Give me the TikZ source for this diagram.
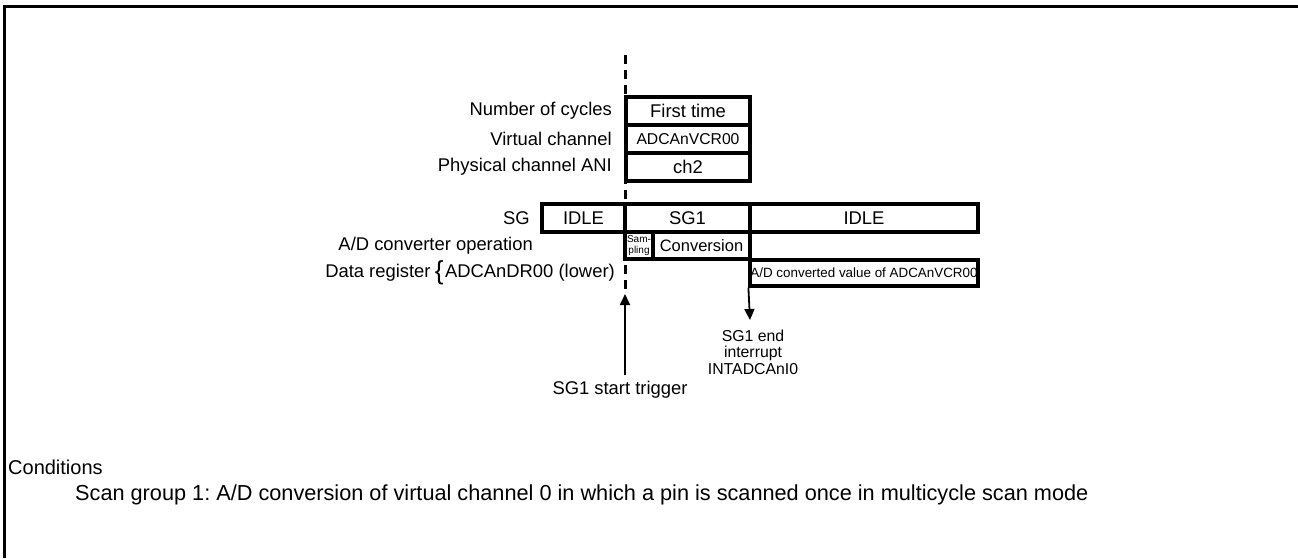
\documentclass[tikz,border=0pt]{standalone}
\usepackage{fontspec}
\setmainfont{Liberation Sans}
\usepackage{tikz}
\usetikzlibrary{arrows.meta}
\frenchspacing

\begin{document}
\begin{tikzpicture}[
    x=1pt, y=-1pt,
    % casillas del diagrama de tiempos
    celda/.style={draw=black, line width=3.2pt, minimum height=28pt, inner sep=0pt, font=\fontsize{18.4}{20}\selectfont},
    etiqueta/.style={anchor=east, inner sep=0pt, font=\fontsize{18.4}{20}\selectfont},
    texto/.style={inner sep=0pt, font=\fontsize{18.4}{20}\selectfont},
    lineaTiempo/.style={line width=3pt, dash pattern=on 9pt off 6pt},
    flechaEvento/.style={-{Triangle[length=11pt,width=10pt]}, line width=1.8pt}
]
    \useasboundingbox (0,0) rectangle (1298,558);

    % --- MARCO ---
    \draw[line width=3pt] (1298,6) -- (4,6) -- (4,558);

    % --- FILAS SUPERIORES ---
    \node[celda, minimum width=124pt] (ciclos)  at (688,111) {First time};
    \node[celda, minimum width=124pt, font=\fontsize{15.7}{17}\selectfont] (virtual) at (688,139) {ADCAnVCR00};
    \node[celda, minimum width=124pt] (fisico)  at (688,167) {ch2};

    \node[etiqueta] (lblCiclos)  at (612,111) {Number of cycles};
    \node[etiqueta] (lblVirtual) at (612,139) {Virtual channel};
    \node[etiqueta] (lblFisico)  at (612,167) {Physical channel ANI};

    % --- GRUPO DE EXPLORACION ---
    \node[celda, minimum width=83pt]  (idleA) at (583.5,218) {IDLE};
    \node[celda, minimum width=125pt] (sgUno) at (687.5,218) {SG1};
    \node[celda, minimum width=228pt] (idleB) at (864,218)   {IDLE};
    \node[etiqueta] (lblSG) at (530,218) {SG};

    % --- OPERACION DEL CONVERTIDOR ---
    \node[celda, minimum width=28pt, minimum height=27pt, align=center,
          font=\fontsize{10}{10.5}\selectfont] (muestreo) at (639,245.5) {Sam-\\pling};
    \node[celda, minimum width=97pt, minimum height=27pt,
          font=\fontsize{16.5}{18}\selectfont] (conversion) at (701.5,245.5) {Conversion};
    \node[etiqueta] (lblOperacion) at (533,245.5) {A/D converter operation};

    % --- REGISTRO DE DATOS ---
    \node[celda, minimum width=228pt, minimum height=26pt,
          font=\fontsize{13.4}{15}\selectfont] (valor) at (864,273) {A/D converted value of ADCAnVCR00};
    \node[etiqueta] (lblRegistro) at (615,273) {ADCAnDR00 (lower)};
    \node[texto, anchor=east, font=\fontsize{26}{26}\selectfont] (llave) at ([xshift=-1pt]lblRegistro.west) {\{};
    \node[etiqueta] (lblDatos) at ([xshift=-4pt]llave.west) {Data register};

    % --- LINEA DE INICIO ---
    \coordinate (tope) at (625,55);
    \coordinate (base) at (625,294);
    \draw[lineaTiempo] (tope) -- (base);

    % --- EVENTOS ---
    \node[texto] (disparo) at (620,390) {SG1 start trigger};
    \draw[flechaEvento] (625,375) -- (base);

    \node[texto, align=center, font=\fontsize{15.8}{16.5}\selectfont] (fin) at (753,352) {SG1 end\\interrupt\\INTADCAnI0};
    \draw[flechaEvento] (valor.south west) -- (750,320);

    % --- CONDICIONES ---
    \node[texto, anchor=west, font=\fontsize{20}{22}\selectfont] (condiciones) at (8,467) {Conditions};
    \node[texto, anchor=west, font=\fontsize{21.7}{24}\selectfont] (detalle) at (75,495) {Scan group 1: A/D conversion of virtual channel 0 in which a pin is scanned once in multicycle scan mode};

\end{tikzpicture}
\end{document}
